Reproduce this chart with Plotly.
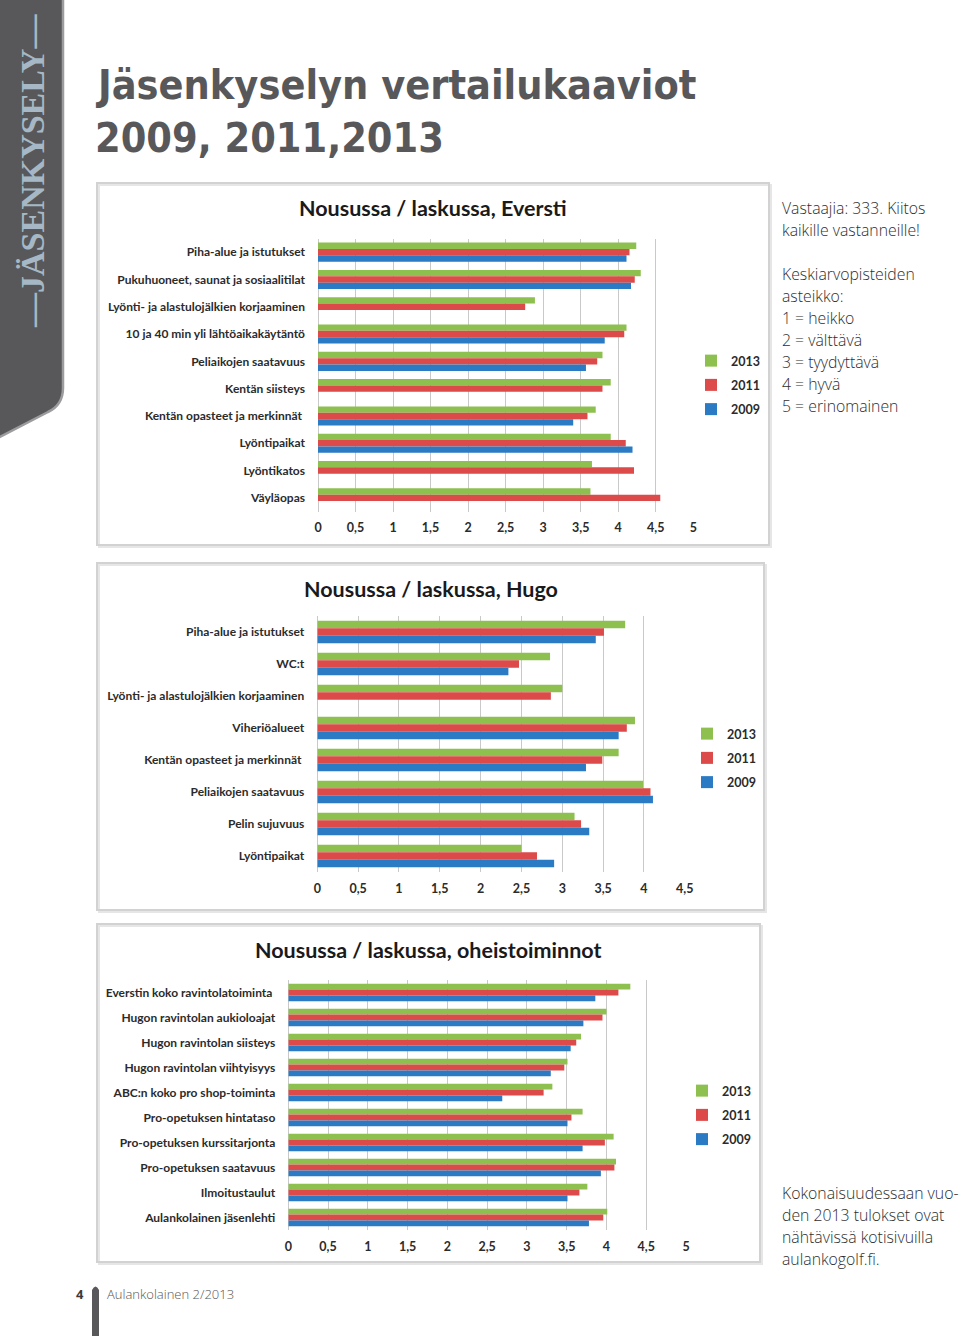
import plotly.graph_objects as go

W, H = 960, 1336
def px(x): return x / W
def py(y): return 1 - y / H

years = ["2013", "2011", "2009"]
colors = {"2013": "#8dc04f", "2011": "#dc4a4a", "2009": "#2b7bc4"}

cats_eversti = ["Piha-alue ja istutukset", "Pukuhuoneet, saunat ja sosiaalitilat",
                "Lyönti- ja alastulojälkien korjaaminen", "10 ja 40 min yli lähtöaikakäytäntö",
                "Peliaikojen saatavuus", "Kentän siisteys", "Kentän opasteet ja merkinnät ",
                "Lyöntipaikat", "Lyöntikatos", "Väyläopas"]
e2013 = [4.24, 4.30, 2.89, 4.11, 3.79, 3.90, 3.70, 3.90, 3.65, 3.63]
e2011 = [4.15, 4.22, 2.76, 4.08, 3.72, 3.79, 3.59, 4.10, 4.21, 4.56]
e2009 = [4.11, 4.17, None, 3.82, 3.57, None, 3.40, 4.19, None, None]

cats_hugo = ["Piha-alue ja istutukset", "WC:t", "Lyönti- ja alastulojälkien korjaaminen",
             "Viheriöalueet", "Kentän opasteet ja merkinnät ", "Peliaikojen saatavuus",
             "Pelin sujuvuus", "Lyöntipaikat"]
h2013 = [3.77, 2.85, 3.00, 3.89, 3.69, 3.99, 3.15, 2.50]
h2011 = [3.51, 2.47, 2.86, 3.79, 3.49, 4.08, 3.23, 2.69]
h2009 = [3.41, 2.34, None, 3.69, 3.29, 4.11, 3.33, 2.90]

cats_ohe = ["Everstin koko ravintolatoiminta ", "Hugon ravintolan aukioloajat",
            "Hugon ravintolan siisteys", "Hugon ravintolan viihtyisyys",
            "ABC:n koko pro shop-toiminta", "Pro-opetuksen hintataso",
            "Pro-opetuksen kurssitarjonta", "Pro-opetuksen saatavuus",
            "Ilmoitustaulut", "Aulankolainen jäsenlehti"]
o2013 = [4.30, 4.00, 3.68, 3.51, 3.32, 3.70, 4.09, 4.12, 3.76, 4.01]
o2011 = [4.15, 3.95, 3.62, 3.47, 3.21, 3.56, 3.98, 4.10, 3.66, 3.96]
o2009 = [3.86, 3.71, 3.55, 3.30, 2.69, 3.51, 3.70, 3.93, 3.51, 3.78]

chart_titles = ["Nousussa / laskussa, Eversti", "Nousussa / laskussa, Hugo",
                "Nousussa / laskussa, oheistoiminnot"]
x_max = [5, 4.5, 5]

charts = [
    (cats_eversti, {"2013": e2013, "2011": e2011, "2009": e2009}),
    (cats_hugo, {"2013": h2013, "2011": h2011, "2009": h2009}),
    (cats_ohe, {"2013": o2013, "2011": o2011, "2009": o2009}),
]

# layout geometry (pixels)
plot_boxes = [  # x0, x1, ytop, ybottom
    (318, 693.3, 238.5, 511.5),
    (317.3, 684.8, 616, 872),
    (288.3, 686, 980, 1230),
]
frames = [(97, 183, 769, 545), (97, 563, 764, 910), (97, 924, 760, 1262)]
title_pos = [(433, 208), (431, 589), (428, 950)]
legend_pos = [(691, 346), (687, 719), (682, 1076)]

LABEL_FONT = "Lato"
fig = go.Figure()

for i, (cats, series) in enumerate(charts):
    n = "" if i == 0 else str(i + 1)
    leg = "legend" if i == 0 else f"legend{i+1}"
    for yr in years:
        fig.add_trace(go.Bar(
            y=cats, x=series[yr], orientation="h", name=yr,
            marker=dict(color=colors[yr], line=dict(width=0)),
            xaxis="x" + n, yaxis="y" + n, legend=leg,
            legendgroup=f"{i}-{yr}", showlegend=True, hoverinfo="x+y+name",
        ))

layout = dict(
    template="none",
    width=W, height=H, autosize=False,
    margin=dict(l=0, r=0, t=0, b=0, pad=0, autoexpand=False),
    paper_bgcolor="white", plot_bgcolor="white",
    barmode="group", bargap=0.3, bargroupgap=0,
    separators=", ",
    showlegend=True,
)

for i in range(3):
    n = "" if i == 0 else str(i + 1)
    x0, x1, yt, yb = plot_boxes[i]
    layout["xaxis" + n] = dict(
        domain=[px(x0), px(x1)], range=[0, x_max[i]], dtick=0.5, tick0=0,
        showgrid=True, gridcolor="#c9c9c9", gridwidth=1.3,
        zeroline=True, zerolinecolor="#c9c9c9", zerolinewidth=1.3,
        showline=False, ticks="", ticklabelstandoff=7, automargin=False,
        tickfont=dict(family=LABEL_FONT, size=12.5, color="#2b2b2b", weight="bold"),
        anchor="y" + n, fixedrange=True,
    )
    layout["yaxis" + n] = dict(
        domain=[py(yb), py(yt)], autorange="reversed", type="category",
        showgrid=False, zeroline=False, showline=False, ticks="",
        ticklabelstandoff=12, automargin=False,
        tickfont=dict(family=LABEL_FONT, size=12, color="#2b2b2b", weight="bold"),
        anchor="x" + n, fixedrange=True,
    )
    lx, ly = legend_pos[i]
    layout["legend" if i == 0 else f"legend{i+1}"] = dict(
        x=px(lx), y=py(ly), xanchor="left", yanchor="top",
        font=dict(family=LABEL_FONT, size=12.5, color="#2b2b2b", weight="bold"),
        bgcolor="rgba(0,0,0,0)", borderwidth=0,
        traceorder="grouped", tracegroupgap=5, itemwidth=30,
    )

shapes = []
for (fx0, fy0, fx1, fy1) in frames:
    shapes.append(dict(type="rect", xref="paper", yref="paper",
                       x0=px(fx0 + 2), x1=px(fx1 + 2), y0=py(fy1 + 2), y1=py(fy0 + 2),
                       line=dict(color="#e6e6e6", width=2), layer="below"))
    shapes.append(dict(type="rect", xref="paper", yref="paper",
                       x0=px(fx0), x1=px(fx1), y0=py(fy1), y1=py(fy0),
                       line=dict(color="#d2d2d2", width=2), layer="below"))

# left band
band = (f"M {px(-2)},{py(-2)} L {px(63)},{py(-2)} L {px(63)},{py(388)} "
        f"Q {px(63)},{py(405)} {px(48)},{py(412)} L {px(-2)},{py(438)} Z")
shapes.append(dict(type="path", xref="paper", yref="paper", path=band,
                   fillcolor="#58585a", line=dict(color="#9c9c9e", width=2.5), layer="below"))
# footer bar
shapes.append(dict(type="path", xref="paper", yref="paper",
                   path=(f"M {px(92)},{py(1338)} L {px(92)},{py(1290)} "
                         f"Q {px(95.5)},{py(1283)} {px(99)},{py(1290)} L {px(99)},{py(1338)} Z"),
                   fillcolor="#58585a", line=dict(width=0)))
layout["shapes"] = shapes

ann = []
for i, t in enumerate(chart_titles):
    tx, ty = title_pos[i]
    ann.append(dict(text=t, x=px(tx), y=py(ty), xref="paper", yref="paper",
                    xanchor="center", yanchor="middle", showarrow=False,
                    font=dict(family=LABEL_FONT, size=21.5, color="#1a1a1a", weight="bold")))

# page heading
HEAD_FONT = "DejaVu Sans Condensed"
ann.append(dict(text="Jäsenkyselyn vertailukaaviot", x=px(93), y=py(85), xref="paper", yref="paper",
                xanchor="left", yanchor="middle", showarrow=False,
                font=dict(family=HEAD_FONT, size=41, color="#58585a", weight="bold")))
ann.append(dict(text="2009, 2011,2013", x=px(93), y=py(138), xref="paper", yref="paper",
                xanchor="left", yanchor="middle", showarrow=False,
                font=dict(family=HEAD_FONT, size=41, color="#58585a", weight="bold")))
# vertical band text
ann.append(dict(text="—JÄSENKYSELY—", x=px(33), y=py(171), xref="paper", yref="paper",
                xanchor="center", yanchor="middle", showarrow=False, textangle=-90,
                font=dict(family="Liberation Serif", size=34, color="#a6b8c5", weight="bold")))

side_lines = [(208, "Vastaajia: 333. Kiitos"), (230, "kaikille vastanneille!"),
              (274, "Keskiarvopisteiden"), (296, "asteikko:"), (318, "1 = heikko"),
              (340, "2 = välttävä"), (362, "3 = tyydyttävä"), (384, "4 = hyvä"),
              (406, "5 = erinomainen"),
              (1193, "Kokonaisuudessaan vuo-"), (1215, "den 2013 tulokset ovat"),
              (1237, "nähtävissä kotisivuilla"), (1259, "aulankogolf.fi.")]
for yy, t in side_lines:
    ann.append(dict(text=t, x=px(780), y=py(yy), xref="paper", yref="paper",
                    xanchor="left", yanchor="middle", showarrow=False,
                    font=dict(family="Open Sans", size=15.8, color="#2e2e2e", weight=300)))

ann.append(dict(text="4", x=px(86), y=py(1294), xref="paper", yref="paper",
                xanchor="right", yanchor="middle", showarrow=False,
                font=dict(family="Open Sans", size=13, color="#3a3a3a", weight="bold")))
ann.append(dict(text="Aulankolainen 2/2013", x=px(105), y=py(1294), xref="paper", yref="paper",
                xanchor="left", yanchor="middle", showarrow=False,
                font=dict(family="Open Sans", size=13, color="#555555", weight=300)))
layout["annotations"] = ann

fig.update_layout(**layout)
fig.write_html("out.html", config={"displayModeBar": False},
               post_script="document.body.style.margin='0';document.body.style.padding='0';"
                           "document.body.style.overflow='hidden';")
